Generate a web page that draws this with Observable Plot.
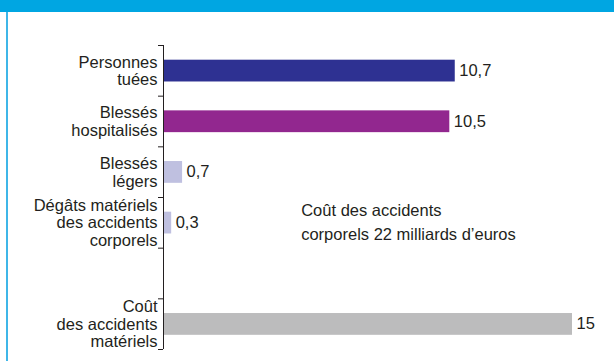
<!DOCTYPE html>
<html><head><meta charset="utf-8">
<script src="https://cdn.jsdelivr.net/npm/d3@7"></script>
<script src="https://cdn.jsdelivr.net/npm/@observablehq/plot@0.6"></script>
<style>
html,body{margin:0;padding:0;background:#fff;}
#wrap{position:relative;width:614px;height:361px;overflow:hidden;font-family:"Liberation Sans",Arial,sans-serif;}
#hdr{position:absolute;left:0;top:0;width:614px;height:12px;background:#00a6e2;}
#lb{position:absolute;left:6px;top:12px;width:1.5px;height:349px;background:#3fb6e8;}
#chart{position:absolute;left:0;top:0;}
</style></head>
<body><div id="wrap"><div id="chart"></div><div id="hdr"></div><div id="lb"></div></div>
<script>
const categories = ["Personnes\ntuées", "Blessés\nhospitalisés", "Blessés\nlégers", "Dégâts matériels\ndes accidents\ncorporels", "", "Coût\ndes accidents\nmatériels"];
const values = [10.7, 10.5, 0.7, 0.3, null, 15];
const valueLabels = ["10,7", "10,5", "0,7", "0,3", "", "15"];
const colors = ["#2e3192", "#92278f", "#bfc0e0", "#bfc0e0", "#ffffff", "#bcbcbd"];
const note = "Coût des accidents\ncorporels 22 milliards d’euros";
const noteX = 5.05, noteY = 3.45;

const data = categories.map((c, i) => ({i, c, v: values[i], lab: valueLabels[i], col: colors[i]}));
const bars = data.filter(d => d.v != null);

const plot = Plot.plot({
  width: 614, height: 361,
  marginLeft: 163, marginRight: 42, marginTop: 45, marginBottom: 12,
  style: {fontFamily: '"Liberation Sans", Arial, sans-serif', fontSize: "16.5px", color: "#231f20", background: "transparent"},
  x: {domain: [0, 15], axis: null},
  y: {domain: [0, 6], reverse: true, axis: null},
  marks: [
    Plot.rectX(bars, {x1: 0, x2: "v", y1: d => d.i + 0.29, y2: d => d.i + 0.72, fill: "col"}),
    Plot.ruleX([0], {y1: 0, y2: 6, stroke: "#231f20", strokeWidth: 1}),
    Plot.axisY({ticks: d3.range(0, 7), tickFormat: () => "", tickSize: 5, anchor: "left", stroke: "#231f20", strokeOpacity: 1}),
    Plot.text(data, {x: 0, y: d => d.i + 0.5, text: "c", textAnchor: "end", dx: -6, lineHeight: 1.06, fontSize: 16.5, fill: "#231f20"}),
    Plot.text(bars, {x: "v", y: d => d.i + 0.5, text: "lab", textAnchor: "start", dx: 4, fontSize: 16.5, fill: "#231f20"}),
    Plot.text([note], {x: noteX, y: noteY, text: d => d, textAnchor: "start", lineHeight: 1.42, fontSize: 16.5, fill: "#231f20"})
  ]
});
document.getElementById("chart").appendChild(plot);
</script></body></html>
